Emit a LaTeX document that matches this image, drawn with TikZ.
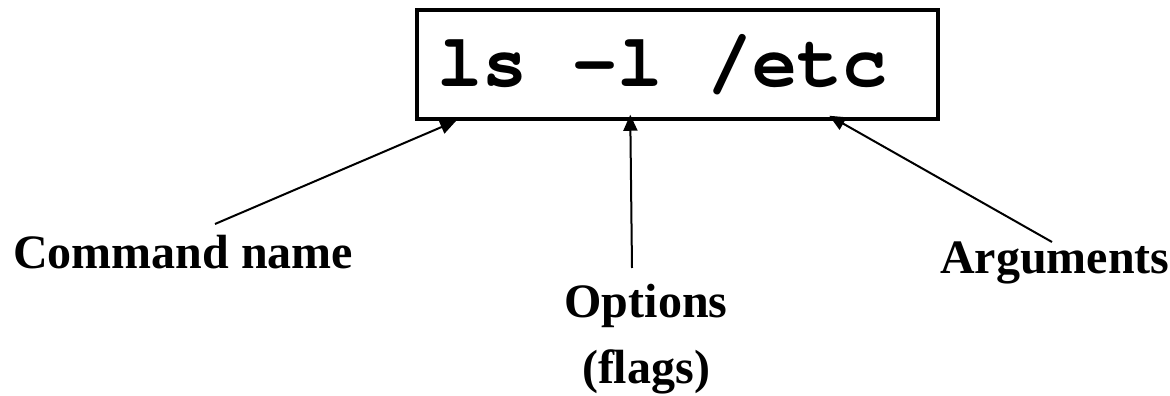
\documentclass[tikz,border=0pt]{standalone}
\usepackage{fontspec}
\setmainfont{Liberation Serif}
\setmonofont{texgyrecursor}[Extension = .otf, UprightFont = *-regular, BoldFont = *-bold, WordSpace = {1, 0, 0}]
\usetikzlibrary{arrows.meta}

\begin{document}
\begin{tikzpicture}[x = 1pt, y = -1pt,
    cmdbox/.style = {draw = black, line width = 3.5pt, shape = rectangle, minimum width = 521pt, minimum height = 109pt, inner xsep = 20pt, text width = 481pt, align = left, font = \ttfamily\bfseries\fontsize{75}{90}\selectfont},
    lbl/.style = {inner sep = 0pt, align = center, font = \bfseries\fontsize{48}{66}\selectfont},
    arr/.style = {line width = 2pt, -{Triangle[length = 16pt, width = 14pt]}}]
    \useasboundingbox (0,0) rectangle (1170,396);
    \node[cmdbox] (cmd) at (677.5, 64.5) {ls\hspace{.6em}-l\hspace{.6em}/etc};
    % labels below the box
    \node[lbl, anchor = base west] (name) at (13, 268) {Command name};
    \node[lbl, anchor = base] (opts) at (646, 383) {Options\\(flags)};
    \node[lbl, anchor = base west] (args) at (940, 273) {Arguments};
    % arrow ends
    \coordinate (nameEnd) at (215, 224);
    \coordinate (optsEnd) at (632, 268);
    \coordinate (argsEnd) at (1052, 242);
    \coordinate (lsTip) at ([xshift = 41pt]cmd.south west);
    \coordinate (flagTip) at ([xshift = 215pt, yshift = 6pt]cmd.south west);
    \coordinate (etcTip) at ([xshift = 414pt, yshift = 5pt]cmd.south west);
    \draw[arr] (nameEnd) -- (lsTip);
    \draw[arr] (optsEnd) -- (flagTip);
    \draw[arr] (argsEnd) -- (etcTip);
\end{tikzpicture}
\end{document}
